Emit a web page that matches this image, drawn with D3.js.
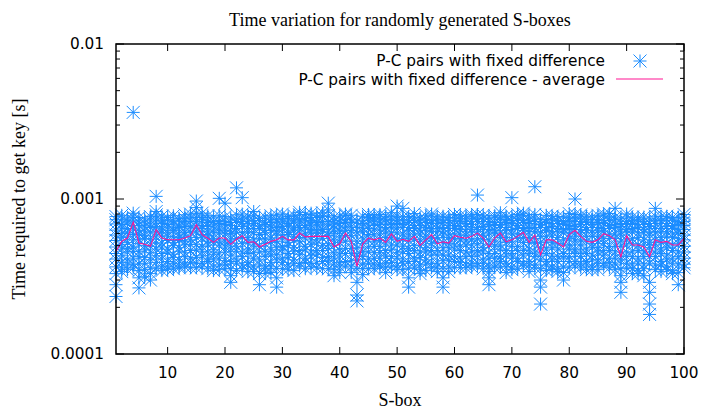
<!DOCTYPE html>
<html>
<head>
<meta charset="utf-8">
<script src="https://cdn.jsdelivr.net/npm/d3@7/dist/d3.min.js"></script>
<style>
  body { margin: 0; background: #fff; }
  svg { display: block; }
</style>
</head>
<body>
<svg id="chart"></svg>
<script>
const width = 703,
      height = 410;

// S-box index (1..100)
const sboxes = d3.range(1, 101);

const samples = [
  [77,73.5,69,63,58.5,54,49,44.5,41,36.5,33,28,23.5],
  [78.5,74,68.5,65,60,56.5,51,47.5,43,39,36,34],
  [75.5,72,70,64.5,61,57,52.5,48,45.5,40.5,37.5,35],
  [362,81,76.5,73,67.5,64,59,54.5,49,46,41.5,38,36],
  [76,71,67.5,62.5,59.5,55,51.5,46,42.5,38,34.5,31,26.7],
  [74.5,70,66,62,58,55.5,50,47,42,38.5,35,31.5],
  [77,73,68,65.5,60.5,55,49.5,45,40.5,36,33,30],
  [104,83,79,74.5,71,66.5,61.5,57,52,47.5,43,39,35.5],
  [77.5,72.5,69.5,65,63,58.5,52,49,44.5,41,37,34.5],
  [76,74,68.5,66,60.5,57.5,54,47.5,45,39.5,36.5,35],
  [78,72,69,64,62.5,57,52.5,50,44,42,38.5,35.5],
  [75,73,67,65.5,59.5,56.5,54,48.5,46,40.5,37,36],
  [79,74.5,71.5,66.5,61,58.5,53,50.5,45,42.5,38,36.5],
  [80,75.5,72,67,65,60.5,54.5,51,46.5,41.5,39,36],
  [97,88,81,76,71.5,66,62,56.5,51,47,42,38.5,36],
  [81,76,73.5,67.5,64.5,59,56,49.5,46,43,38.5,36.5],
  [78,73,70.5,66.5,61.5,58,53.5,50.5,45.5,41,39.5,35.5],
  [76.5,71.5,68,63,60.5,55.5,52.5,47,44,40.5,36.5,34.5],
  [101,78,72.5,69.5,64,61,54.5,50.5,45,41.5,37.5,35],
  [94,77,71.5,68.5,62.5,59.5,53.5,49,45.5,40,38,35.5],
  [75.5,70.5,67.5,62,60,55,52,47.5,43.5,39.5,35.5,32,29],
  [118,79,73.5,70.5,64.5,61,55.5,49.5,46,41,38.5,34.5],
  [102,80,74.5,71.5,66.5,60.5,56.5,51.5,45.5,42.5,37.5,35.5],
  [77.5,72,69.5,64,61.5,56.5,52.5,47.5,44.5,39,37.5,34],
  [83,78,72.5,69.5,64.5,60.5,54.5,50.5,45,41.5,36.5,34],
  [75,72.5,67,64.5,59,55.5,49.5,45.5,40.5,37.5,33,28],
  [76.5,71,68.5,63,60.5,55,51.5,46,42.5,37,35.5,33],
  [78,74,70.5,66,62.5,56,52.5,47,43.5,39,36.5,33.5],
  [79,73.5,71,65.5,62,58.5,53,48.5,44,40.5,35.5,31,27],
  [80,74.5,72,66.5,64,58.5,56,49.5,47,41.5,39,35.5],
  [77,75,69.5,67,61,59,52.5,50,44.5,42,37.5,35],
  [78.5,73,71,65,63,57.5,54,48.5,46,40.5,38.5,34.5],
  [82,79,73.5,71,65.5,63,56.5,53,46.5,44,38.5,37],
  [79.5,75,73,67.5,65,59.5,56,49.5,47,41.5,39,35.5],
  [81,76,72.5,68,63.5,61,54.5,51,45.5,43,38.5,36.5],
  [78.5,76,70.5,68,62.5,60,54.5,52,46.5,44,38.5,36],
  [81.5,77,71.5,69,63.5,61,55.5,50,46.5,42,39.5,35.5],
  [94,85,78,71.5,68,61.5,58,51.5,48,42.5,40,35.5],
  [76.5,72,68,64,60,54.5,50.5,45,41.5,38,35,32],
  [77.5,73,69.5,65,61.5,57,52.5,47,43.5,39,36.5,33.5],
  [80,78.5,74,70.5,66,62.5,58,53.5,48,44.5,39.5,37.5],
  [78.5,74,70.5,66,62.5,58,53.5,48,44.5,40,36.5,33.5],
  [72,65.5,60.5,53.5,48.5,43.5,40.5,35.5,29,24,22],
  [77.5,73,69.5,65,61.5,56,51.5,46,42.5,38,35.5,32.5],
  [79.5,76,72.5,68,64.5,59,54.5,49,45.5,41,38.5,35.5],
  [78,75.5,71,67.5,63,58.5,53,49.5,45,41.5,38,35.5],
  [79.5,76.5,72,68.5,64,59.5,54,49.5,45,41.5,37.5,36.5],
  [77.5,73.5,70,65.5,62,56.5,52,46.5,43,38.5,36,33.5],
  [81.5,76.5,73,68.5,65,60.5,56,50.5,47,42.5,39,36.5],
  [90,77.5,73,69.5,65,60.5,55,50.5,45,41.5,37,35],
  [87,76.5,73.5,68.5,65.5,59.5,55.5,49.5,46,41,38.5,35],
  [77,73,70.5,65.5,62.5,57.5,53.5,48,44.5,39.5,35.5,31,27],
  [80.5,75.5,72.5,67.5,64.5,59.5,55,50,46.5,41.5,39.5,36],
  [75.5,71,67.5,63,59.5,54.5,50.5,45.5,42,37.5,35,33],
  [78.5,73.5,70.5,65.5,62.5,57.5,53.5,48.5,45.5,40.5,38,34.5],
  [80,77.5,72.5,69.5,64.5,61.5,55.5,51.5,46.5,43.5,38.5,36],
  [76.5,73,69.5,64.5,61.5,56.5,52.5,46.5,43.5,38.5,36.5,34],
  [77.5,74,70.5,65.5,62,58.5,52.5,48.5,43.5,40,35.5,31,27],
  [76,72.5,67.5,64.5,59.5,56.5,51.5,48.5,43.5,40.5,36.5,34],
  [79.5,75.5,72.5,67.5,64.5,59.5,55.5,50.5,47.5,42.5,39.5,36],
  [78.5,74.5,71.5,66.5,63.5,58.5,54.5,49.5,46.5,41.5,39,36],
  [77.5,74.5,69.5,66.5,61.5,58.5,53.5,50.5,45.5,42.5,37.5,36],
  [79,76.5,71.5,68.5,63.5,60.5,54.5,50.5,45.5,42.5,38.5,36.5],
  [106,79.5,74.5,71.5,65.5,61.5,55.5,51.5,46.5,43.5,38.5,37],
  [78.5,74.5,71.5,66.5,63.5,58.5,54.5,48.5,45.5,40.5,38.5,35.5],
  [76.5,71.5,68.5,63.5,60.5,54.5,50.5,44.5,41.5,36.5,34,31,28],
  [78,75.5,70.5,67.5,62.5,59.5,53.5,49.5,44.5,41.5,37.5,36],
  [81.5,76.5,73.5,68.5,65.5,60.5,56.5,50.5,47.5,42.5,39.5,36.5],
  [77.5,73.5,70.5,65.5,62.5,56.5,52.5,46.5,43.5,38.5,36.5,33.5],
  [102,77.5,72.5,69.5,63.5,59.5,53.5,49.5,44.5,41.5,36.5,35],
  [79.5,75.5,72.5,67.5,64.5,59.5,55.5,49.5,46.5,41.5,39.5,35.5],
  [81,78.5,73.5,70.5,65.5,62.5,56.5,52.5,46.5,43.5,38.5,37],
  [77.5,72.5,69.5,64.5,61.5,56.5,52.5,47.5,44.5,39.5,37.5,34],
  [120,79.5,74.5,71.5,65.5,61.5,55.5,51.5,45.5,42.5,37.5,36],
  [73.5,68.5,65.5,60.5,57.5,52.5,48.5,43.5,40.5,35.5,30,27,21],
  [78.5,73.5,70.5,65.5,62.5,57.5,53.5,47.5,44.5,39.5,37.5,34.5],
  [77.5,74.5,69.5,66.5,61.5,58.5,52.5,48.5,43.5,40.5,36.5,35],
  [77,72.5,69.5,64.5,61.5,56.5,51.5,47.5,42.5,39.5,35.5,34],
  [76.5,71.5,68.5,63.5,60.5,54.5,50.5,44.5,41.5,36.5,33.5,30],
  [80.5,75.5,72.5,67.5,64.5,59.5,55.5,50.5,47.5,42.5,39.5,36],
  [100,79.5,74.5,71.5,66.5,63.5,57.5,53.5,47.5,44.5,39.5,37],
  [79,76.5,71.5,68.5,63.5,60.5,54.5,50.5,45.5,42.5,38.5,36],
  [77.5,73.5,70.5,65.5,62.5,57.5,53.5,47.5,44.5,39.5,37.5,35],
  [76.5,73.5,68.5,65.5,60.5,57.5,51.5,48.5,43.5,40.5,36.5,35],
  [78.5,73.5,70.5,65.5,62.5,57.5,53.5,48.5,45.5,40.5,38.5,35],
  [80,77.5,72.5,69.5,64.5,61.5,55.5,51.5,46.5,43.5,38.5,37],
  [80.5,75.5,72.5,67.5,64.5,59.5,55.5,49.5,46.5,41.5,39,36],
  [87,76.5,73.5,68.5,65.5,59.5,55.5,49.5,45.5,41.5,38,35],
  [74.5,69.5,66.5,61.5,58.5,53.5,49.5,43.5,40.5,35.5,32,29,25],
  [80,76.5,71.5,68.5,63.5,60.5,54.5,50.5,45.5,42.5,38.5,36],
  [76.5,72.5,69.5,64.5,61.5,55.5,51.5,45.5,42.5,37.5,35.5,33],
  [75.5,73.5,68.5,65.5,60.5,56.5,50.5,46.5,41.5,38.5,34.5,33],
  [76.5,71.5,68.5,63.5,60.5,54.5,50.5,45.5,42.5,37.5,35.5,32],
  [74.5,69.5,66.5,61.5,58.5,52.5,48.5,42.5,38.5,29,25,21,18],
  [87,77.5,72.5,69.5,64.5,60.5,54.5,50.5,45.5,42.5,37.5,35],
  [77,72.5,69.5,64.5,61.5,56.5,52.5,47.5,44.5,39.5,37.5,34],
  [77.5,74.5,69.5,66.5,61.5,57.5,51.5,48.5,43.5,40.5,36.5,35],
  [76,72.5,67.5,64.5,59.5,56.5,50.5,46.5,41.5,38.5,34.5,33],
  [76.5,71.5,68.5,63.5,60.5,55.5,51.5,45.5,42.5,37.5,33.5,28],
  [79.5,75.5,71.5,67.5,63.5,58.5,54.5,49.5,45.5,41.5,38,36]
];

// average time per S-box, in units of 1e-5 s
const avgTime = [
  45.9,53.3,56.0,71.1,52.0,51.0,49.5,63.4,56.0,54.6,
  54.6,54.6,56.0,58.0,68.3,58.9,55.8,52.5,56.0,56.0,
  51.0,55.0,58.0,52.5,53.0,49.0,51.0,53.3,54.6,57.4,
  54.5,54.5,60.3,57.0,57.4,57.4,57.4,57.4,49.0,51.4,
  60.3,53.3,36.7,51.4,56.0,54.5,56.0,52.5,59.5,53.3,
  55.0,53.3,57.4,50.2,54.5,58.9,51.4,53.0,52.0,58.0,
  56.6,55.8,57.4,60.3,56.0,49.0,56.0,60.3,53.0,54.5,
  57.4,61.0,52.5,58.5,43.7,54.5,54.5,52.0,49.0,59.0,
  62.8,57.4,53.3,52.5,54.5,59.8,58.0,54.6,42.3,58.0,
  50.5,50.5,49.0,42.5,54.6,52.5,53.3,50.5,50.5,55.8
];

const yTicks = [1e-4, 1e-3, 1e-2];
const yTickLabels = ["0.0001", "0.001", "0.01"];
const xTicks = [10, 20, 30, 40, 50, 60, 70, 80, 90, 100];

const seriesNames = ["P-C pairs with fixed difference", "P-C pairs with fixed difference - average"];
const pointColor = "#1a8cff",
      lineColor = "#ff1493";

const margin = { top: 44, right: 19, bottom: 56, left: 116 };

const svg = d3.select("#chart")
  .attr("width", width)
  .attr("height", height);

const x = d3.scaleLinear()
  .domain([1, 100])
  .range([margin.left, width - margin.right]);

const y = d3.scaleLog()
  .domain([1e-4, 1e-2])
  .range([height - margin.bottom, margin.top]);

const x0 = x.range()[0], x1 = x.range()[1];
const y0 = y.range()[0], y1 = y.range()[1];

const points = [];
samples.forEach((vals, i) => {
  vals.forEach(v => points.push({ s: sboxes[i], t: v * 1e-5 }));
});

const plot = svg.append("g");

const r = 6.5;
const starPath = `M${-r},0H${r}M0,${-r}V${r}M${-r},${-r}L${r},${r}M${-r},${r}L${r},${-r}`;

plot.append("g")
  .attr("stroke", pointColor)
  .attr("stroke-width", 1)
  .attr("fill", "none")
  .selectAll("path")
  .data(points)
  .join("path")
  .attr("transform", d => `translate(${x(d.s)},${y(d.t)})`)
  .attr("d", starPath);

const line = d3.line()
  .x((d, i) => x(sboxes[i]))
  .y(d => y(d * 1e-5));

plot.append("path")
  .datum(avgTime)
  .attr("fill", "none")
  .attr("stroke", lineColor)
  .attr("stroke-width", 1.1)
  .attr("d", line);

// ticks (gnuplot style: inward, mirrored)
const axes = svg.append("g").attr("stroke", "#000").attr("stroke-width", 1);

xTicks.forEach(t => {
  axes.append("line").attr("x1", x(t)).attr("x2", x(t)).attr("y1", y0).attr("y2", y0 - 7);
  axes.append("line").attr("x1", x(t)).attr("x2", x(t)).attr("y1", y1).attr("y2", y1 + 7);
});

const minor = [];
[1e-4, 1e-3].forEach(dec => {
  for (let k = 2; k <= 9; k++) minor.push(dec * k);
});
minor.forEach(t => {
  axes.append("line").attr("x1", x0).attr("x2", x0 + 4).attr("y1", y(t)).attr("y2", y(t));
  axes.append("line").attr("x1", x1).attr("x2", x1 - 4).attr("y1", y(t)).attr("y2", y(t));
});
yTicks.forEach(t => {
  axes.append("line").attr("x1", x0).attr("x2", x0 + 8).attr("y1", y(t)).attr("y2", y(t));
  axes.append("line").attr("x1", x1).attr("x2", x1 - 8).attr("y1", y(t)).attr("y2", y(t));
});

svg.append("rect")
  .attr("x", x0).attr("y", y1)
  .attr("width", x1 - x0).attr("height", y0 - y1)
  .attr("fill", "none").attr("stroke", "#000").attr("stroke-width", 1.5);

// tick labels
const sans = "DejaVu Sans, sans-serif",
      serif = "Liberation Serif, Times New Roman, serif";

svg.append("g")
  .selectAll("text")
  .data(xTicks)
  .join("text")
  .attr("x", d => x(d))
  .attr("y", y0 + 19)
  .attr("dy", "0.35em")
  .attr("text-anchor", "middle")
  .attr("font-family", sans)
  .attr("font-size", 15.3)
  .text(d => d);

svg.append("g")
  .selectAll("text")
  .data(yTicks)
  .join("text")
  .attr("x", x0 - 12)
  .attr("y", d => y(d))
  .attr("dy", "0.35em")
  .attr("text-anchor", "end")
  .attr("font-family", sans)
  .attr("font-size", 15.3)
  .text((d, i) => yTickLabels[i]);

// titles
svg.append("text")
  .attr("x", (x0 + x1) / 2)
  .attr("y", 20)
  .attr("dy", "0.35em")
  .attr("text-anchor", "middle")
  .attr("font-family", serif)
  .attr("font-size", 18)
  .text("Time variation for randomly generated S-boxes");

svg.append("text")
  .attr("x", (x0 + x1) / 2)
  .attr("y", 400)
  .attr("dy", "0.35em")
  .attr("text-anchor", "middle")
  .attr("font-family", serif)
  .attr("font-size", 18)
  .text("S-box");

svg.append("text")
  .attr("transform", `translate(19,${(y0 + y1) / 2}) rotate(-90)`)
  .attr("dy", "0.35em")
  .attr("text-anchor", "middle")
  .attr("font-family", serif)
  .attr("font-size", 18)
  .text("Time required to get key [s]");

// legend
const legend = svg.append("g");
const legendY = [61, 79.5];
legend.selectAll("text")
  .data(seriesNames)
  .join("text")
  .attr("x", 605)
  .attr("y", (d, i) => legendY[i])
  .attr("dy", "0.35em")
  .attr("text-anchor", "end")
  .attr("font-family", sans)
  .attr("font-size", 15.3)
  .text(d => d);

legend.append("path")
  .attr("transform", `translate(640,${legendY[0]})`)
  .attr("d", starPath)
  .attr("stroke", pointColor)
  .attr("fill", "none");

legend.append("line")
  .attr("x1", 616).attr("x2", 663)
  .attr("y1", 79).attr("y2", 79)
  .attr("stroke", lineColor)
  .attr("stroke-width", 1.1);
</script>
</body>
</html>
